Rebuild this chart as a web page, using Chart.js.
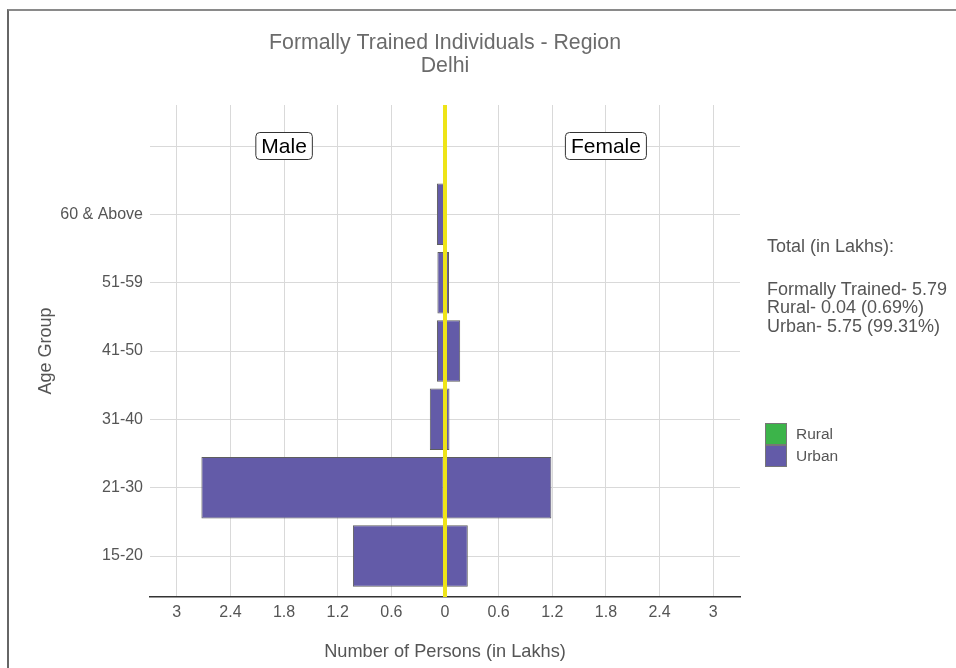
<!DOCTYPE html>
<html>
<head>
<meta charset="utf-8">
<script src="https://cdn.jsdelivr.net/npm/chart.js@4.4.1/dist/chart.umd.min.js"></script>
<style>
  body { margin: 0; background: #fff; }
  #wrap { position: relative; width: 956px; height: 668px; overflow: hidden; font-family: "Liberation Sans", Arial, sans-serif; }
  #chart { position: absolute; left: 0; top: 0; }
  .frame { position: absolute; left: 7px; top: 9px; width: 960px; height: 670px; border-top: 2px solid #8a8a8a; border-left: 2px solid #666; pointer-events: none; }
  #totals { position: absolute; left: 767px; top: 237px; color: #555; font-size: 18px; line-height: 18.5px; }
  #totals .head { margin-bottom: 24px; }
  #legend { position: absolute; left: 765px; top: 423px; color: #555; font-size: 15.5px; }
  #legend .item { display: flex; align-items: center; height: 22px; }
  #legend .sw { width: 22px; height: 22px; border: 1px solid #777; box-sizing: border-box; margin-right: 9px; }
</style>
</head>
<body>
<div id="wrap">
  <canvas id="chart" width="956" height="668"></canvas>
  <div class="frame"></div>
  <div id="totals"></div>
  <div id="legend"></div>
</div>
<script>
// age groups, bottom to top
var ageGroups = ["15-20", "21-30", "31-40", "41-50", "51-59", "60 & Above"];
// values in lakhs
var maleUrban = [1.02, 2.71, 0.17, 0.09, 0.085, 0.09];
var maleRural = [0.01, 0.015, 0, 0, 0, 0];
var femaleUrban = [0.25, 1.18, 0.05, 0.17, 0.045, 0];
var femaleRural = [0.005, 0.01, 0, 0, 0, 0];
var xTickValues = [-3, -2.4, -1.8, -1.2, -0.6, 0, 0.6, 1.2, 1.8, 2.4, 3];
var sexLabels = ["Male", "Female"];
var seriesNames = ["Rural", "Urban"];
var titleLines = ["Formally Trained Individuals - Region", "Delhi"];
var totalsHead = "Total (in Lakhs):";
var totalsLines = ["Formally Trained- 5.79", "Rural- 0.04 (0.69%)", "Urban- 5.75 (99.31%)"];

var FONT = '"Liberation Sans", Arial, sans-serif';
var RURAL = "#3cb44a";
var URBAN = "#635ba8";
var EDGE = "#5e5e5e";
var GRID = "#d9d9d9";

Chart.defaults.font.family = FONT;

function toPoints(values, sign) {
  return values.map(function (v, i) { return { x: sign * v, y: i }; });
}

function barSet(name, values, sign, color) {
  return {
    label: name,
    data: toPoints(values, sign),
    backgroundColor: color,
    borderColor: EDGE,
    borderWidth: 1,
    borderSkipped: false,
    barPercentage: 0.9,
    categoryPercentage: 1,
  };
}

var overlay = {
  id: "overlay",
  afterDatasetsDraw: function (chart) {
    var ctx = chart.ctx;
    var area = chart.chartArea;
    var x = chart.scales.x;
    var y = chart.scales.y;
    var x0 = x.getPixelForValue(0);
    ctx.save();
    ctx.strokeStyle = "#eee418";
    ctx.lineWidth = 4;
    ctx.beginPath();
    ctx.moveTo(x0, area.top);
    ctx.lineTo(x0, area.bottom);
    ctx.stroke();

    ctx.font = "21px " + FONT;
    ctx.textAlign = "center";
    ctx.textBaseline = "middle";
    sexLabels.forEach(function (t, k) {
      var cx = x.getPixelForValue(k === 0 ? -1.8 : 1.8);
      var cy = y.getPixelForValue(6);
      var w = ctx.measureText(t).width + 11;
      var h = 27;
      ctx.beginPath();
      ctx.roundRect(cx - w / 2, cy - h / 2, w, h, 4);
      ctx.fillStyle = "#fff";
      ctx.fill();
      ctx.strokeStyle = "#333";
      ctx.lineWidth = 1;
      ctx.stroke();
      ctx.fillStyle = "#000";
      ctx.fillText(t, cx, cy + 1);
    });
    ctx.restore();
  },
};

var chart = new Chart(document.getElementById("chart").getContext("2d"), {
  type: "bar",
  data: {
    datasets: [
      barSet(seriesNames[0], maleRural, -1, RURAL),
      barSet(seriesNames[0], femaleRural, 1, RURAL),
      barSet(seriesNames[1], maleUrban, -1, URBAN),
      barSet(seriesNames[1], femaleUrban, 1, URBAN),
    ],
  },
  options: {
    indexAxis: "y",
    responsive: false,
    animation: false,
    layout: { padding: { left: 0, right: 216, top: 0, bottom: 0 } },
    plugins: {
      legend: { display: false },
      tooltip: { enabled: false },
      title: {
        display: true,
        fullSize: false,
        text: titleLines,
        color: "#6b6b6b",
        font: { size: 21.3, weight: "normal", lineHeight: 1.08 },
        padding: { top: 32, bottom: 27 },
      },
    },
    scales: {
      x: {
        type: "linear",
        stacked: true,
        min: -3.3,
        max: 3.3,
        afterBuildTicks: function (scale) {
          scale.ticks = xTickValues.map(function (v) { return { value: v }; });
        },
        afterFit: function (scale) { scale.height = 71; },
        ticks: {
          color: "#555",
          font: { size: 16 },
          padding: 6,
          maxRotation: 0,
          autoSkip: false,
          callback: function (v) { return String(Math.abs(Math.round(v * 10) / 10)); },
        },
        grid: { color: GRID, lineWidth: 1, drawTicks: false },
        border: { display: true, color: "#333", width: 1.5 },
        title: {
          display: true,
          text: "Number of Persons (in Lakhs)",
          color: "#555",
          font: { size: 18.2 },
          padding: { top: 0, bottom: 5 },
        },
      },
      y: {
        type: "linear",
        stacked: true,
        offset: false,
        min: -0.6,
        max: 6.6,
        afterBuildTicks: function (scale) {
          scale.ticks = [0, 1, 2, 3, 4, 5, 6].map(function (v) { return { value: v }; });
        },
        afterFit: function (scale) { scale.width = 150; },
        ticks: {
          color: "#555",
          font: { size: 16 },
          padding: 7,
          autoSkip: false,
          callback: function (v) { return ageGroups[v] !== undefined ? ageGroups[v] : ""; },
        },
        grid: { color: GRID, lineWidth: 1, drawTicks: false, offset: false },
        border: { display: false },
        title: {
          display: true,
          text: "Age Group",
          color: "#555",
          font: { size: 18 },
          padding: { top: 35, bottom: 0 },
        },
      },
    },
  },
  plugins: [overlay],
});

var totals = document.getElementById("totals");
var head = document.createElement("div");
head.className = "head";
head.textContent = totalsHead;
totals.appendChild(head);
totalsLines.forEach(function (t) {
  var d = document.createElement("div");
  d.textContent = t;
  totals.appendChild(d);
});

var legend = document.getElementById("legend");
[RURAL, URBAN].forEach(function (c, i) {
  var item = document.createElement("div");
  item.className = "item";
  var sw = document.createElement("div");
  sw.className = "sw";
  sw.style.background = c;
  var lab = document.createElement("span");
  lab.textContent = seriesNames[i];
  item.appendChild(sw);
  item.appendChild(lab);
  legend.appendChild(item);
});
</script>
</body>
</html>
